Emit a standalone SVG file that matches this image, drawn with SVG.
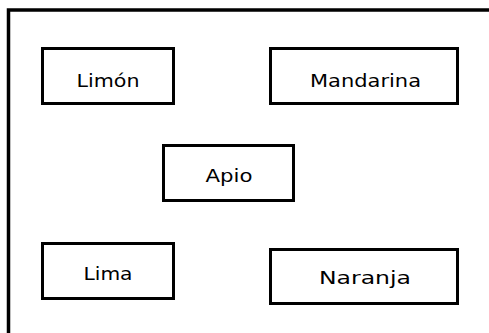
<svg xmlns="http://www.w3.org/2000/svg" width="489" height="333" viewBox="0 0 489 333">
<style>
.box{fill:#fff;stroke:#000;stroke-width:3}
.lbl{font-family:"DejaVu Sans","Liberation Sans",sans-serif;font-size:18px;fill:#000;text-anchor:middle}
</style>
<rect x="0" y="0" width="489" height="333" fill="#fff"/>
<path d="M8.5,340 V10 H500" fill="none" stroke="#000" stroke-width="3.5"/>
<g id="limon"><rect class="box" x="42.5" y="48.5" width="131" height="55"/><text class="lbl" x="108" y="87" textLength="63" lengthAdjust="spacingAndGlyphs">Limón</text></g>
<g id="mandarina"><rect class="box" x="270.5" y="48.5" width="187" height="55"/><text class="lbl" x="365.5" y="87" textLength="111" lengthAdjust="spacingAndGlyphs">Mandarina</text></g>
<g id="apio"><rect class="box" x="163.5" y="145.5" width="130" height="55"/><text class="lbl" x="229" y="181.7" textLength="47" lengthAdjust="spacingAndGlyphs">Apio</text></g>
<g id="lima"><rect class="box" x="42.5" y="243.5" width="131" height="55"/><text class="lbl" x="108" y="280" textLength="49" lengthAdjust="spacingAndGlyphs">Lima</text></g>
<g id="naranja"><rect class="box" x="270.5" y="249.5" width="187" height="54"/><text class="lbl" x="365" y="284" textLength="92" lengthAdjust="spacingAndGlyphs">Naranja</text></g>
<g id="connectors"></g>
</svg>
